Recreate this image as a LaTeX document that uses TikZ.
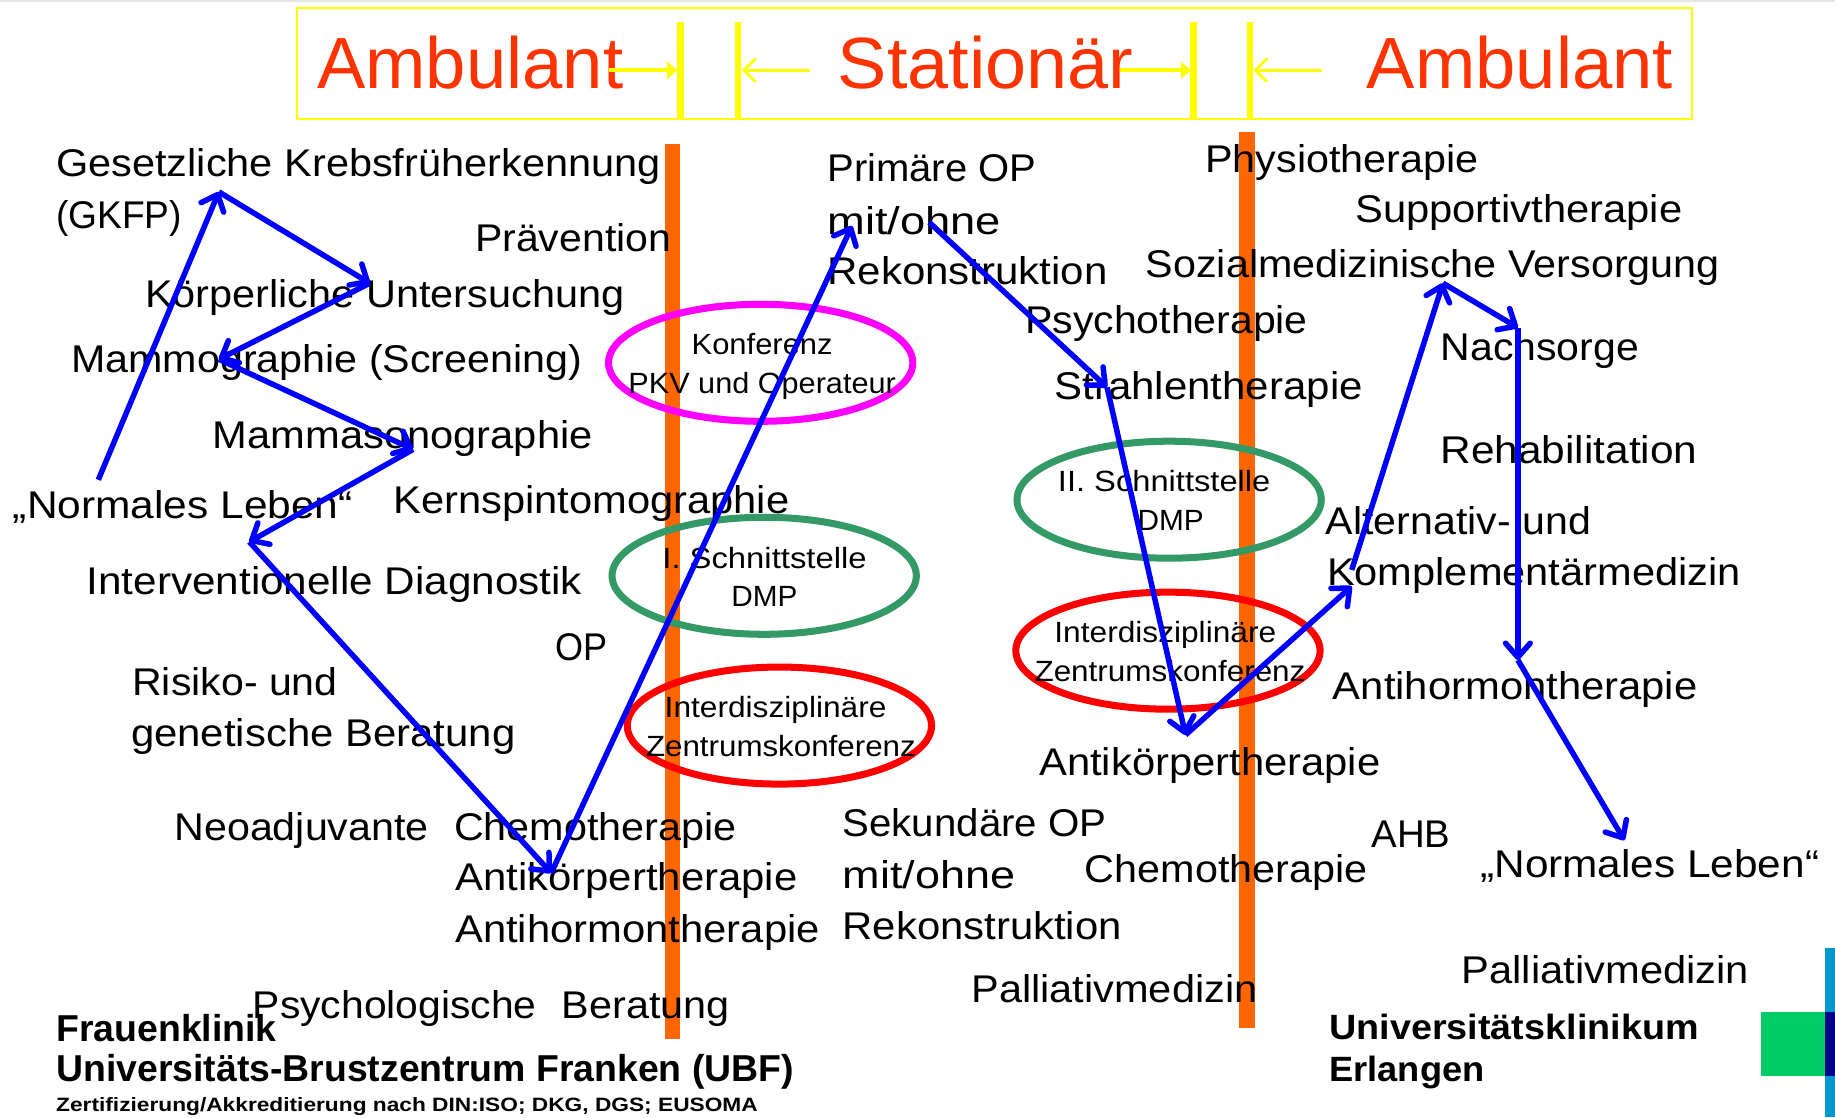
\documentclass[tikz,border=0pt]{standalone}
\usepackage{fontspec}
\usepackage{graphicx}
\setmainfont{Liberation Sans}
\usetikzlibrary{arrows.meta,shapes.geometric}
\definecolor{titlered}{HTML}{FF3300}
\definecolor{barorange}{HTML}{FF6600}
\definecolor{ovalgreen}{HTML}{339966}
\definecolor{ovalmagenta}{HTML}{FF00FF}
\definecolor{ovalred}{HTML}{FF0000}
\definecolor{flowblue}{HTML}{0000FF}
\definecolor{ruleyellow}{HTML}{FFFF00}
\definecolor{logogreen}{HTML}{00CC66}
\definecolor{logoblue}{HTML}{0099CC}
\definecolor{logonavy}{HTML}{00008F}
\tikzset{
  x=1pt,y=-1pt,
  base/.style={anchor=base west,inner sep=0pt,outer sep=0pt},
  body/.style={base,yshift=-1pt,font=\fontsize{33}{33}\selectfont},
  small/.style={base,font=\fontsize{25}{25}\selectfont},
  headline/.style={base,yshift=1pt,font=\fontsize{62}{62}\selectfont,text=titlered},
  footbig/.style={base,font=\fontsize{32}{32}\selectfont\bfseries},
  footsmall/.style={base,font=\fontsize{16.5}{16.5}\selectfont\bfseries},
  footuk/.style={base,font=\fontsize{30}{30}\selectfont\bfseries},
  oval/.style={ellipse,draw,line width=6pt,minimum width=260pt,minimum height=100pt,inner sep=0pt},
  bar/.style={fill=barorange,draw=none},
  yrule/.style={draw=ruleyellow,line width=5.5pt},
  yarrowin/.style={draw=ruleyellow,line width=3pt,-{Triangle[length=9pt,width=14pt,fill=ruleyellow]}},
  yarrowout/.style={draw=ruleyellow,line width=2.4pt,-{Straight Barb[length=10pt,width=20pt]}},
  flow/.style={draw=flowblue,line width=4.7pt,-{Straight Barb[length=12pt,width=21pt,round]}},
}
\newcommand{\tx}[6]{\node[#1] (#2) at (#3,#4) {\resizebox{\dimexpr#5pt+1.5pt\relax}{\height}{#6}};}
\begin{document}
\begin{tikzpicture}
\useasboundingbox (0,0) rectangle (1568,954.5);
% top rule
\fill[black!10] (0,0) rectangle (1568,1.5);
% header frame
\draw[ruleyellow,line width=1.8pt] (254,7) rectangle (1446,101.5);
\coordinate (v1t) at (581.5,18.5); \coordinate (v1b) at (581.5,101.5);
\coordinate (v2t) at (630.5,18.5); \coordinate (v2b) at (630.5,101.5);
\coordinate (v3t) at (1020,18.5);  \coordinate (v3b) at (1020,101.5);
\coordinate (v4t) at (1068,18.5);  \coordinate (v4b) at (1068,101.5);
\foreach \a in {1,2,3,4} {\draw[yrule] (v\a t) -- (v\a b);}
% orange bars
\fill[bar] (568,123) rectangle (581,888);
\fill[bar] (1059,113) rectangle (1072,878);
% ovals
\node[oval,draw=ovalmagenta] (o1) at (650,310) {};
\node[oval,draw=ovalgreen] (o2) at (653,492) {};
\node[oval,draw=ovalred] (o3) at (666,620) {};
\node[oval,draw=ovalgreen] (o4) at (999,427) {};
\node[oval,draw=ovalred] (o5) at (998,556) {};
% oval texts
\tx{small}{o1a}{591}{303}{119}{Konferenz}
\tx{small}{o1b}{537}{336}{227}{PKV und Operateur}
\tx{small}{o2a}{566}{486}{173}{I. Schnittstelle}
\tx{small}{o2b}{625}{518}{55}{DMP}
\tx{small}{o3a}{568}{613}{188}{Interdisziplinäre}
\tx{small}{o3b}{552}{646}{229}{Zentrumskonferenz}
\tx{small}{o4a}{904}{420}{180}{II. Schnittstelle}
\tx{small}{o4b}{972}{453}{55}{DMP}
\tx{small}{o5a}{901}{549}{188}{Interdisziplinäre}
\tx{small}{o5b}{884}{582}{230}{Zentrumskonferenz}
% header texts
\tx{headline}{h1}{271}{77}{260}{Ambulant}
\tx{headline}{h2}{716}{77}{251}{Stationär}
\tx{headline}{h3}{1168}{77}{260}{Ambulant}
% header arrows
\coordinate (a1s) at (520,60); \coordinate (a1e) at (579,60);
\coordinate (a2s) at (692,60); \coordinate (a2e) at (634,60);
\coordinate (a3s) at (957,60); \coordinate (a3e) at (1018,60);
\coordinate (a4s) at (1130,60); \coordinate (a4e) at (1071,60);
\draw[yarrowin] (a1s) -- (a1e);
\draw[yarrowout] (a2s) -- (a2e);
\draw[yarrowin] (a3s) -- (a3e);
\draw[yarrowout] (a4s) -- (a4e);
% body texts
\tx{body}{t1}{48}{150}{515}{Gesetzliche Krebsfrüherkennung}
\tx{body}{t2}{48}{194}{106}{(GKFP)}
\tx{body}{t3}{406}{214}{166}{Prävention}
\tx{body}{t4}{124}{262}{408}{Körperliche Untersuchung}
\tx{body}{t5}{61}{317}{435}{Mammographie (Screening)}
\tx{body}{t6}{182}{382}{323}{Mammasonographie}
\tx{body}{t7}{11}{442}{289}{„Normales Leben“}
\tx{body}{t8}{336}{438}{337}{Kernspintomographie}
\tx{body}{t9}{74}{507}{422}{Interventionelle Diagnostik}
\tx{body}{t10}{475}{563}{43}{OP}
\tx{body}{t11}{113}{593}{174}{Risiko- und}
\tx{body}{t12}{112}{637}{327}{genetische Beratung}
\tx{body}{t13}{149}{717}{216}{Neoadjuvante}
\tx{body}{t14}{388}{717}{240}{Chemotherapie}
\tx{body}{t15}{389}{760}{291}{Antikörpertherapie}
\tx{body}{t16}{389}{804}{310}{Antihormontherapie}
\tx{body}{t17}{216}{869}{241}{Psychologische}
\tx{body}{t17b}{480}{869}{142}{Beratung}
\tx{body}{t18}{707}{154}{177}{Primäre OP}
\tx{body}{t19}{707}{199}{147}{mit/ohne}
\tx{body}{t20}{707}{242}{238}{Rekonstruktion}
\tx{body}{t21}{1030}{146}{232}{Physiotherapie}
\tx{body}{t22}{1158}{189}{278}{Supportivtherapie}
\tx{body}{t23}{979}{236}{489}{Sozialmedizinische Versorgung}
\tx{body}{t24}{876}{284}{240}{Psychotherapie}
\tx{body}{t25}{1231}{307}{168}{Nachsorge}
\tx{body}{t26}{901}{340}{262}{Strahlentherapie}
\tx{body}{t27}{1231}{395}{218}{Rehabilitation}
\tx{body}{t28}{1133}{456}{225}{Alternativ- und}
\tx{body}{t29}{1134}{499}{352}{Komplementärmedizin}
\tx{body}{t30}{1139}{597}{310}{Antihormontherapie}
\tx{body}{t31}{888}{662}{290}{Antikörpertherapie}
\tx{body}{t32}{720}{714}{224}{Sekundäre OP}
\tx{body}{t33}{720}{758}{146}{mit/ohne}
\tx{body}{t34}{720}{802}{237}{Rekonstruktion}
\tx{body}{t35}{927}{753}{240}{Chemotherapie}
\tx{body}{t36}{1172}{723}{66}{AHB}
\tx{body}{t37}{1265}{749}{288}{„Normales Leben“}
\tx{body}{t38}{830}{856}{243}{Palliativmedizin}
\tx{body}{t39}{1249}{839}{244}{Palliativmedizin}
% footer texts
\tx{footbig}{f1}{48}{890}{187}{Frauenklinik}
\tx{footbig}{f2}{48}{924}{629}{Universitäts-Brustzentrum Franken (UBF)}
\tx{footsmall}{f3}{48}{950}{598}{Zertifizierung/Akkreditierung nach DIN:ISO; DKG, DGS; EUSOMA}
\tx{footuk}{f4}{1136}{888}{314}{Universitätsklinikum}
\tx{footuk}{f5}{1136}{924}{131}{Erlangen}
% logo
\fill[logoblue] (1559.6,810) rectangle (1568,954.5);
\fill[logonavy] (1559.6,864.6) rectangle (1568,919.6);
\fill[logogreen] (1505,864.6) rectangle (1559.6,919.6);
% flow arrows
\coordinate (p0) at (84,410);
\coordinate (p1) at (187,164);
\coordinate (p2) at (316,242);
\coordinate (p3) at (187,307);
\coordinate (p4) at (353,384);
\coordinate (p5) at (213,463);
\coordinate (p6) at (471,746);
\coordinate (p7) at (728,193);
\coordinate (q0) at (794,190);
\coordinate (q1) at (946,331);
\coordinate (q2) at (1013,628);
\coordinate (q3) at (1155,501);
\coordinate (q4) at (1155,487);
\coordinate (q5) at (1233,242);
\coordinate (q6) at (1297,280);
\coordinate (q7) at (1297,564);
\coordinate (q8) at (1388,718);
\foreach \a/\b in {p0/p1,p1/p2,p2/p3,p3/p4,p4/p5,p5/p6,p6/p7,q0/q1,q1/q2,q2/q3,q4/q5,q5/q6,q6/q7,q7/q8}
  {\draw[flow] (\a) -- (\b);}
\end{tikzpicture}
\end{document}
